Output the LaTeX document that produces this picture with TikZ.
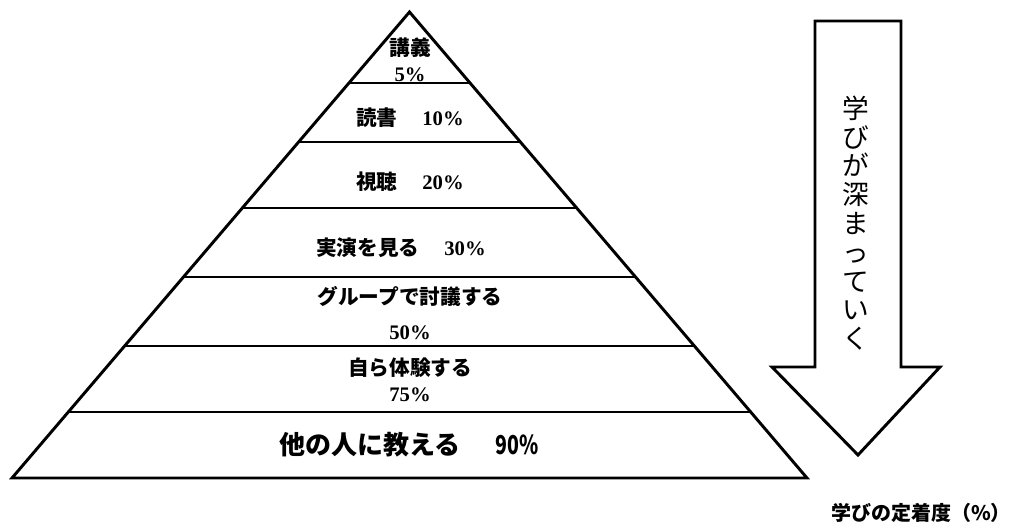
\documentclass[tikz,border=0pt]{standalone}
\usepackage{fontspec}
\setmainfont{Liberation Serif}
\newfontfamily\jp{Noto Sans CJK JP}
\usepackage{tikz}

\begin{document}
\begin{tikzpicture}[x=0.75pt,y=-0.75pt,line width=2.2pt,line join=miter,
	lvl/.style={inner sep=0pt,font=\fontsize{15.5}{17}\selectfont\bfseries},
	big/.style={inner sep=0pt,font=\fontsize{19.5}{22}\selectfont\jp\bfseries}]
	\useasboundingbox (0,0) rectangle (1021,529);
	% pyramid
	\draw (409.5,12) -- (807,478) -- (12,478) -- cycle;
	\foreach \y in {83,142,208,277,346,412}
		\draw ({409.5-(\y-12)*0.853},\y) -- ({409.5+(\y-12)*0.853},\y);
	\node[lvl] (kogi) at (410,48) {\jp 講義};
	\node[lvl] (kogip) at (410,75) {5\%};
	\node[lvl] (dokusho) at (410,118) {{\jp 読書}\hspace{1.2em}10\%};
	\node[lvl] (shicho) at (410,182) {{\jp 視聴}\hspace{1.2em}20\%};
	\node[lvl] (jitsuen) at (401,248) {{\jp 実演を見る}\hspace{1.2em}30\%};
	\node[lvl] (toron) at (410,296) {\jp グループで討議する};
	\node[lvl] (toronp) at (410,333) {50\%};
	\node[lvl] (taiken) at (410,368) {\jp 自ら体験する};
	\node[lvl] (taikenp) at (410,395) {75\%};
	\node[big] (oshieru) at (409,445) {他の人に教える\hspace{1.35em}\scalebox{0.75}[1]{90\%}};
	% arrow
	\draw (815,21) -- (901,21) -- (901,367) -- (940,367) -- (858,455)
		-- (772,367) -- (815,367) -- cycle;
	\node[inner sep=0pt,align=center,font=\fontsize{20}{21.6}\selectfont\jp] (fukamaru) at (856,223)
		{学\\び\\が\\深\\ま\\っ\\て\\い\\く};
	\node[inner sep=0pt,font=\fontsize{15}{17}\selectfont\jp\bfseries] (teichaku) at (921,513) {学びの定着度（\%）};
\end{tikzpicture}
\end{document}
